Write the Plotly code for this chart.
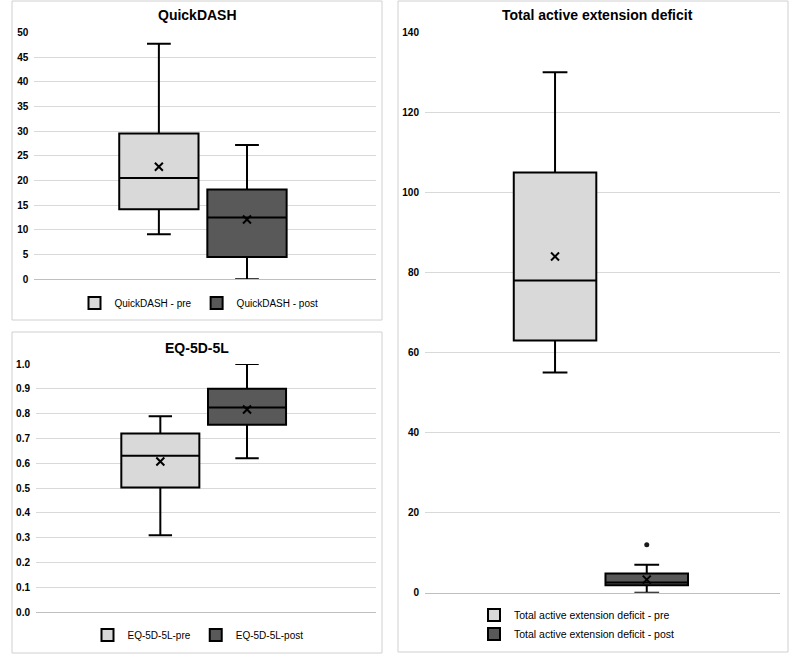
import plotly.graph_objects as go

# ---------------- data ----------------
qd_labels = ["QuickDASH - pre", "QuickDASH - post"]
qd_q1 = [14.2, 4.5]
qd_median = [20.5, 12.5]
qd_q3 = [29.5, 18.2]
qd_lower = [9.1, 0.0]
qd_upper = [47.7, 27.2]
qd_mean = [22.8, 12.1]

eq_labels = ["EQ-5D-5L-pre", "EQ-5D-5L-post"]
eq_q1 = [0.503, 0.755]
eq_median = [0.63, 0.825]
eq_q3 = [0.72, 0.90]
eq_lower = [0.31, 0.62]
eq_upper = [0.79, 1.0]
eq_mean = [0.607, 0.817]

tad_labels = ["Total active extension deficit - pre", "Total active extension deficit - post"]
tad_q1 = [63, 1.9]
tad_median = [78, 2.6]
tad_q3 = [105, 4.8]
tad_lower = [55, 0]
tad_upper = [130, 7]
tad_mean = [84, 3.3]
tad_outlier_label = [tad_labels[1]]
tad_outliers = [12]

fills = ["#d9d9d9", "#595959"]
FONT = "Liberation Sans, Arial, sans-serif"

fig = go.Figure()

panels = [
    ("x", "y", "legend", qd_labels, qd_q1, qd_median, qd_q3, qd_lower, qd_upper, qd_mean),
    ("x2", "y2", "legend2", eq_labels, eq_q1, eq_median, eq_q3, eq_lower, eq_upper, eq_mean),
    ("x3", "y3", "legend3", tad_labels, tad_q1, tad_median, tad_q3, tad_lower, tad_upper, tad_mean),
]

for xa, ya, lg, labels, q1, med, q3, lo, up, mean in panels:
    for i in range(2):
        fig.add_trace(go.Box(
            x=[labels[i]], q1=[q1[i]], median=[med[i]], q3=[q3[i]],
            lowerfence=[lo[i]], upperfence=[up[i]],
            name=labels[i], fillcolor=fills[i],
            line=dict(color="#000000", width=2),
            whiskerwidth=0.3, boxpoints=False,
            xaxis=xa, yaxis=ya, legend=lg, showlegend=True,
        ))
    fig.add_trace(go.Scatter(
        x=labels, y=mean, mode="markers",
        marker=dict(symbol="x-thin", size=8, line=dict(color="#000000", width=2)),
        showlegend=False, hoverinfo="skip", xaxis=xa, yaxis=ya,
    ))

fig.add_trace(go.Scatter(
    x=tad_outlier_label, y=tad_outliers, mode="markers",
    marker=dict(symbol="circle", size=5, color="#1a1a1a"),
    showlegend=False, hoverinfo="skip", xaxis="x3", yaxis="y3",
))

W, H = 800, 664

def px_x(a, b):
    return [a / W, b / W]

def px_y(top, bottom):
    return [1 - bottom / H, 1 - top / H]

xcommon = dict(type="category", showticklabels=False, ticks="", showgrid=False, automargin=False,
               zeroline=False, showline=True, linecolor="#bfbfbf", linewidth=1, fixedrange=True)
ycommon = dict(showgrid=True, gridcolor="#d9d9d9", gridwidth=1, zeroline=False, automargin=False,
               showline=False, ticks="", ticklabelstandoff=5,
               tickfont=dict(family=FONT, size=10, color="#000000", weight="bold"), fixedrange=True)

fig.update_layout(
    width=W, height=H, autosize=False,
    margin=dict(l=0, r=0, t=0, b=0, pad=0, autoexpand=False),
    paper_bgcolor="white", plot_bgcolor="white",
    boxmode="overlay", boxgap=0.1, boxgroupgap=0,
    font=dict(family=FONT, color="#000000"),
    xaxis=dict(domain=px_x(34.3, 375.7), anchor="y", range=[-1.414, 2.461],
               categoryorder="array", categoryarray=qd_labels, **xcommon),
    yaxis=dict(domain=px_y(32.3, 279.3), anchor="x", range=[0, 50], dtick=5, **ycommon),
    xaxis2=dict(domain=px_x(36, 375.7), anchor="y2", range=[-1.434, 2.484],
                categoryorder="array", categoryarray=eq_labels, **xcommon),
    yaxis2=dict(domain=px_y(364, 612.3), anchor="x2", range=[0, 1], dtick=0.1,
                tickformat=".1f", **ycommon),
    xaxis3=dict(domain=px_x(425, 780), anchor="y3", range=[-1.418, 2.453],
                categoryorder="array", categoryarray=tad_labels, **xcommon),
    yaxis3=dict(domain=px_y(32.3, 592.8), anchor="x3", range=[0, 140], dtick=20, **ycommon),
    legend=dict(orientation="h", x=199 / W, xanchor="center", y=1 - 303 / H, yanchor="middle",
                font=dict(family=FONT, size=10, color="#000000"), bgcolor="rgba(0,0,0,0)"),
    legend2=dict(orientation="h", x=198 / W, xanchor="center", y=1 - 635 / H, yanchor="middle",
                 font=dict(family=FONT, size=10, color="#000000"), bgcolor="rgba(0,0,0,0)"),
    legend3=dict(orientation="v", x=474 / W, xanchor="left", y=1 - 624.5 / H, yanchor="middle",
                 font=dict(family=FONT, size=10.5, color="#000000"), bgcolor="rgba(0,0,0,0)"),
    showlegend=True,
)

# panel borders
for (x0, y0, x1, y1) in [(12, 1, 382, 320), (12, 332, 382, 653), (398, 1, 788, 652)]:
    fig.add_shape(type="rect", xref="paper", yref="paper",
                  x0=x0 / W, x1=x1 / W, y0=1 - y1 / H, y1=1 - y0 / H,
                  line=dict(color="#d0d0d0", width=1), fillcolor="rgba(0,0,0,0)", layer="below")

# titles
for text, cx, cy in [("QuickDASH", 197, 15), ("EQ-5D-5L", 197, 348), ("Total active extension deficit", 597, 15)]:
    fig.add_annotation(text=text, xref="paper", yref="paper", x=cx / W, y=1 - cy / H,
                       xanchor="center", yanchor="middle", showarrow=False,
                       font=dict(family=FONT, size=14, color="#000000", weight="bold"))

fig.write_html(
    "out.html",
    config={"displayModeBar": False},
    post_script="document.body.style.margin='0';document.body.style.padding='0';"
                "document.documentElement.style.overflow='hidden';",
)
